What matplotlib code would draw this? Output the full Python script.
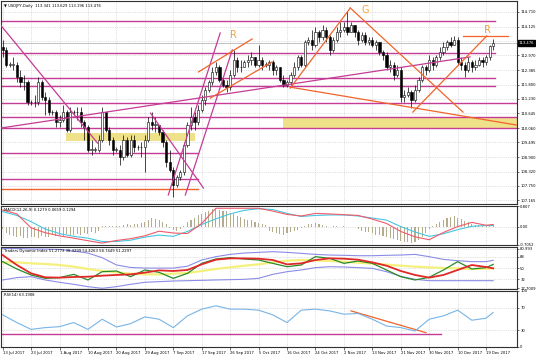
import matplotlib
matplotlib.use('Agg')
import matplotlib.pyplot as plt
import numpy as np

plt.rcParams['font.family'] = ['DejaVu Sans']

# daily candles, 13 Jul 2017 .. 21 Dec 2017 (broker with sunday bars)
first_open = 113.30
closes = [113.2, 112.6, 112.6, 112.6, 112.1, 111.9, 111.9, 111.1, 111.1, 111.1,
          111.9, 111.3, 111.2, 110.7, 110.7, 110.3, 110.4, 110.7, 110.0, 110.7,
          110.7, 110.7, 110.3, 110.1, 109.2, 109.2, 109.2, 109.6, 110.7, 110.0,
          109.6, 109.2, 109.2, 108.9, 109.6, 109.0, 109.6, 109.3, 109.3, 109.3,
          109.6, 110.3, 110.2, 110.2, 109.9, 109.5, 108.7, 108.4, 107.8, 108.1,
          108.3, 109.4, 110.2, 110.5, 110.3, 110.8, 111.2, 111.6, 111.9, 112.3,
          112.5, 112.0, 111.8, 111.7, 112.2, 112.8, 112.5, 112.5, 112.7, 112.8,
          112.9, 112.6, 112.8, 112.6, 112.6, 112.7, 112.4, 112.5, 112.0, 111.8,
          111.9, 112.2, 112.5, 112.9, 112.6, 113.5, 113.6, 113.4, 113.9, 113.7,
          114.0, 113.7, 113.2, 113.6, 113.9, 114.0, 114.1, 113.9, 114.2, 113.9,
          113.6, 113.8, 113.5, 113.6, 113.4, 113.5, 113.1, 113.0, 112.5, 112.6,
          112.2, 112.4, 111.3, 111.4, 111.5, 111.2, 111.6, 112.0, 112.5, 112.4,
          112.8, 112.6, 112.9, 113.1, 113.3, 113.5, 113.4, 113.6, 112.7, 112.6,
          112.4, 112.7, 112.5, 112.6, 112.8, 112.7, 112.9, 113.341, 113.476]
highs = [113.6, 113.3, 112.7, 112.9, 112.7, 112.4, 112.2, 112.0, 111.2, 111.4,
         112.1, 112.0, 111.5, 111.3, 110.8, 110.8, 110.6, 111.0, 110.8, 110.9,
         110.8, 110.9, 110.9, 110.4, 110.2, 109.6, 109.3, 109.8, 110.9, 110.7,
         110.1, 109.7, 109.3, 109.4, 109.8, 109.7, 109.8, 109.8, 109.4, 109.5,
         109.8, 110.5, 110.7, 110.5, 110.2, 110.0, 109.6, 109.2, 108.5, 108.2,
         108.4, 109.5, 110.3, 110.9, 110.7, 111.0, 111.4, 111.7, 112.0, 112.5,
         112.7, 112.6, 112.1, 112.0, 112.4, 113.2, 112.9, 112.8, 112.8, 113.0,
         113.1, 112.9, 113.4, 112.9, 112.7, 112.8, 112.8, 112.6, 112.5, 112.2,
         112.0, 112.3, 112.7, 113.0, 113.0, 113.6, 113.7, 114.0, 114.1, 114.0,
         114.2, 114.1, 113.8, 113.7, 114.1, 114.3, 114.3, 114.73, 114.3, 114.2,
         114.0, 113.9, 113.9, 113.7, 113.7, 113.6, 113.5, 113.2, 113.1, 112.8,
         112.7, 112.6, 112.5, 111.6, 111.7, 111.6, 111.8, 112.1, 112.6, 112.6,
         113.0, 112.9, 113.0, 113.3, 113.5, 113.6, 113.7, 113.75, 113.7, 112.9,
         112.7, 112.9, 112.8, 112.8, 112.9, 112.9, 113.0, 113.4, 113.629]
lows = [112.9, 112.5, 112.5, 112.4, 111.9, 111.7, 111.6, 111.0, 111.0, 110.9,
        111.0, 111.2, 110.6, 110.6, 110.6, 110.1, 110.1, 110.3, 109.9, 109.9,
        110.6, 110.4, 110.1, 109.6, 109.1, 109.0, 109.1, 109.1, 109.5, 109.9,
        109.4, 109.0, 109.1, 108.6, 108.8, 108.9, 108.9, 109.1, 109.2, 108.9,
        108.3, 109.5, 110.0, 109.9, 109.8, 109.3, 108.5, 108.3, 107.3, 107.7,
        108.0, 108.2, 109.3, 110.0, 110.0, 110.2, 110.7, 111.0, 111.5, 111.8,
        112.2, 111.9, 111.7, 111.5, 111.6, 112.1, 112.3, 112.3, 112.5, 112.5,
        112.6, 112.5, 112.5, 112.4, 112.5, 112.4, 112.2, 112.2, 111.9, 111.7,
        111.7, 111.8, 112.1, 112.4, 112.5, 112.5, 113.4, 113.2, 113.3, 113.5,
        113.6, 113.5, 113.0, 113.1, 113.5, 113.7, 113.9, 113.8, 113.9, 113.7,
        113.4, 113.5, 113.4, 113.4, 113.3, 113.2, 113.0, 112.8, 112.4, 112.3,
        112.0, 112.1, 111.1, 111.1, 111.3, 110.85, 111.1, 111.5, 111.9, 112.2,
        112.3, 112.4, 112.5, 112.8, 113.0, 113.2, 113.3, 113.4, 112.6, 112.4,
        112.1, 112.3, 112.3, 112.4, 112.55, 112.5, 112.6, 112.8, 113.196]

date_labels = ['13 Jul 2017', '23 Jul 2017', '1 Aug 2017', '10 Aug 2017', '20 Aug 2017',
               '29 Aug 2017', '7 Sep 2017', '17 Sep 2017', '26 Sep 2017', '5 Oct 2017',
               '16 Oct 2017', '24 Oct 2017', '2 Nov 2017', '13 Nov 2017', '21 Nov 2017',
               '30 Nov 2017', '10 Dec 2017', '19 Dec 2017']
price_ticks = [114.710, 114.125, 113.540, 112.970, 112.385, 111.800, 111.230, 110.645,
               110.060, 109.495, 108.900, 108.320, 107.750, 107.165]

# horizontal levels drawn on the chart: (price, last bar)
magenta_levels = [(114.35, 138.5), (113.07, 138.5), (112.07, 138.5), (111.74, 138.5),
                  (111.06, 145), (110.50, 145), (110.06, 145), (109.06, 55), (108.02, 55)]
orange_levels = [(107.62, 55)]
# trend lines: (bar0, price0, bar1, price1)
magenta_lines = [(-0.6, 114.19, 26.7, 109.46), (-0.6, 110.06, 131.5, 112.91),
                 (46.6, 107.38, 61.2, 113.87), (51.4, 107.38, 64.6, 113.19),
                 (41.6, 110.66, 56.5, 107.66)]
orange_lines = [(97.8, 114.87, 129.5, 110.70), (80.9, 111.66, 97.8, 114.87),
                (55.1, 112.31, 70.2, 113.63), (58.4, 111.26, 75.8, 112.71),
                (80.9, 111.70, 144.7, 110.18), (115.4, 110.70, 136.2, 113.75),
                (129.5, 113.75, 142.1, 113.75)]
zones = [(17.7, 54.2, 109.54, 109.86), (78.9, 145, 110.06, 110.50)]
marks = [('R', 64.9, 113.79), ('G', 102.0, 114.79), ('R', 136.5, 113.99)]

# indicators, read every 4th bar
ind_bars = list(range(0, 137, 4)) + [138]
macd_red = [0.65, 0.50, -0.04, -0.23, -0.35, -0.44, -0.54, -0.63, -0.53, -0.46, -0.35, -0.17,
            -0.24, -0.26, 0.13, 0.72, 0.72, 0.72, 0.72, 0.61, 0.48, 0.42, 0.52, 0.50,
            0.47, 0.44, 0.30, 0.13, -0.18, -0.39, -0.50, -0.22, 0.01, 0.17, 0.06, 0.09]
macd_cyan = [0.59, 0.44, 0.20, -0.09, -0.26, -0.37, -0.44, -0.57, -0.57, -0.52, -0.40, -0.32,
             -0.37, -0.18, 0.09, 0.31, 0.50, 0.64, 0.70, 0.67, 0.52, 0.40, 0.44, 0.46,
             0.46, 0.42, 0.34, 0.26, 0.01, -0.20, -0.37, -0.27, -0.11, 0.02, 0.05, 0.05]
macd_hist = [-0.10, -0.25, -0.30, -0.35, -0.40, -0.35, -0.42, -0.45, -0.40, -0.38,
             -0.42, -0.35, -0.40, -0.38, -0.33, -0.36, -0.30, -0.34, -0.28, -0.32,
             -0.30, -0.26, -0.30, -0.25, -0.28, -0.22, -0.25, -0.18, 0.02, 0.03,
             0.02, 0.04, 0.03, 0.05, 0.08, 0.10, 0.08, 0.12, 0.10, 0.14,
             0.20, 0.28, 0.33, 0.30, 0.25, 0.18, 0.10, -0.05, -0.12, -0.15,
             -0.10, 0.05, 0.18, 0.28, 0.35, 0.45, 0.50, 0.58, 0.62, 0.68,
             0.70, 0.66, 0.62, 0.60, 0.55, 0.50, 0.42, 0.38, 0.32, 0.28,
             0.25, 0.20, 0.16, 0.12, 0.06, -0.15, -0.22, -0.25, -0.28, -0.30,
             -0.25, -0.22, -0.18, -0.12, -0.05, 0.05, 0.10, 0.12, 0.15, 0.12,
             0.08, 0.03, 0.01, 0.02, 0.02, 0.01, 0.02, 0.01, 0.00, -0.02,
             -0.08, -0.15, -0.20, -0.22, -0.25, -0.30, -0.33, -0.36, -0.40, -0.44,
             -0.48, -0.52, -0.55, -0.58, -0.60, -0.62, -0.58, -0.50, -0.40, -0.25,
             -0.10, 0.05, 0.12, 0.20, 0.28, 0.34, 0.38, 0.40, 0.36, 0.30,
             0.24, 0.18, 0.12, 0.08, 0.06, 0.05, 0.04, 0.05, 0.06]
tdi_upper = [80.9, 80.99, 80.2, 80.0, 79.5, 77.0, 73.8, 66.5, 55.0, 51.0, 50.0, 50.0,
             50.0, 53.0, 62.8, 68.1, 71.7, 73.9, 74.9, 76.0, 74.9, 73.3, 71.7, 70.7,
             70.2, 69.6, 69.6, 70.2, 70.7, 71.7, 68.1, 63.8, 61.7, 60.2, 60.2, 62.3]
tdi_lower = [31.2, 34.9, 36.4, 31.2, 27.5, 24.3, 20.6, 18.0, 20.6, 24.3, 27.5, 28.5,
             29.6, 30.1, 30.6, 31.2, 31.7, 32.2, 33.8, 40.1, 44.3, 47.0, 50.7, 52.2,
             51.7, 50.7, 49.6, 44.3, 37.0, 32.2, 30.1, 30.1, 30.1, 30.1, 30.1, 30.1]
tdi_mid = [59.1, 59.1, 57.5, 56.5, 54.9, 52.2, 48.6, 45.4, 43.3, 41.2, 40.1, 40.1,
           41.2, 42.2, 45.4, 48.6, 51.2, 53.8, 55.9, 59.1, 61.7, 62.8, 62.3, 61.2,
           60.2, 58.6, 57.0, 55.4, 53.8, 52.2, 51.2, 50.1, 49.6, 48.6, 49.1, 49.6]
tdi_signal = [70.7, 54.9, 41.7, 35.4, 34.9, 35.9, 36.4, 38.0, 39.1, 40.1, 42.8, 46.4,
              45.4, 47.0, 55.9, 63.3, 65.4, 65.4, 64.9, 62.8, 55.9, 57.5, 62.8, 65.4,
              64.9, 63.3, 59.1, 53.8, 45.4, 39.1, 34.9, 39.1, 47.0, 54.9, 51.7, 49.6]
tdi_price = [60.2, 48.6, 39.1, 33.8, 34.9, 40.1, 31.2, 44.3, 45.4, 36.4, 47.0, 43.3,
             33.8, 41.7, 57.5, 64.4, 66.5, 64.4, 62.8, 57.5, 52.2, 54.9, 68.1, 65.4,
             57.5, 61.2, 57.5, 47.0, 36.4, 31.2, 35.4, 47.0, 60.2, 48.6, 50.7, 55.9]
rsi = [57.4, 43.6, 31.5, 34.6, 36.3, 43.6, 31.5, 49.6, 35.7, 41.7, 53.8, 49.6,
       34.6, 55.6, 67.6, 73.6, 67.6, 67.6, 65.8, 57.4, 43.6, 65.8, 67.6, 64.5,
       58.6, 59.8, 49.6, 37.5, 34.6, 28.5, 49.6, 55.6, 65.8, 47.8, 51.4, 61.6]

MAG = '#c43c96'
ORA = '#f0642a'
FS = 2.7
W, H = 536, 357
fig = plt.figure(figsize=(W / 100, H / 100), dpi=100)


def rect(top, bottom):
    return [0.5 / W, 1 - bottom / H, 516.5 / W, (bottom - top) / H]


ax = fig.add_axes(rect(1, 204))
ax_macd = fig.add_axes(rect(206, 245))
ax_tdi = fig.add_axes(rect(247, 289))
ax_rsi = fig.add_axes(rect(291, 347))
date_bars = [8 * k for k in range(len(date_labels))]

for a in (ax, ax_macd, ax_tdi, ax_rsi):
    a.set_xlim(-0.6, 144.7)
    a.yaxis.tick_right()
    a.set_xticks(date_bars)
    a.grid(True, color='#c8c8c8', lw=0.4, ls=(0, (2, 2)))
    a.set_axisbelow(True)
    a.tick_params(axis='y', labelsize=FS, length=1.5, width=0.4, pad=0.8)
    a.tick_params(axis='x', labelbottom=False, length=0)
    for s in a.spines.values():
        s.set_color('#303030')
        s.set_linewidth(0.8)

# main chart
idx = np.arange(len(closes))
c = np.array(closes)
o = np.array([first_open] + closes[:-1])
body = np.maximum(np.abs(c - o), 0.015)
cols = ['white' if cc >= oo else 'black' for cc, oo in zip(c, o)]
for z in zones:
    ax.fill_between([z[0], z[1]], z[2], z[3], color='#efe08a', lw=0, zorder=1)
for p, end in magenta_levels:
    ax.plot([-0.6, end], [p, p], color=MAG, lw=1.0, zorder=2)
for p, end in orange_levels:
    ax.plot([-0.6, end], [p, p], color=ORA, lw=1.0, zorder=2)
ax.axhline(closes[-1], color='#a8a8a8', lw=0.5, zorder=1)
ax.vlines(idx, lows, highs, color='black', lw=0.5, zorder=3)
ax.bar(idx, body, bottom=np.minimum(o, c), width=0.62, color=cols,
       edgecolor='black', linewidth=0.4, zorder=4)
for x0, y0, x1, y1 in magenta_lines:
    ax.plot([x0, x1], [y0, y1], color=MAG, lw=0.9, zorder=5)
for x0, y0, x1, y1 in orange_lines:
    ax.plot([x0, x1], [y0, y1], color=ORA, lw=0.9, zorder=5)
for t, x, y in marks:
    ax.text(x, y, t, color='#f2a23c', fontsize=7, ha='center', va='center', zorder=6)
ax.set_ylim(107.02, 115.15)
ax.set_yticks(price_ticks)
ax.set_yticklabels(['%.3f' % v if v != 113.540 else '' for v in price_ticks])
ax.text(1.003, closes[-1], '%.3f' % closes[-1], transform=ax.get_yaxis_transform(),
        color='white', fontsize=FS, va='center', ha='left',
        bbox=dict(boxstyle='square,pad=0.2', fc='black', ec='black'))
ax.text(0.006, 0.985, '\u25bc USDJPY,Daily  113.341 113.629 113.196 113.476',
        transform=ax.transAxes, fontsize=FS, va='top', ha='left')

# MACD
ax_macd.bar(idx, macd_hist, width=0.3, color='#b3ad8d', zorder=2)
ax_macd.plot(ind_bars, macd_cyan, color='#46c6e0', lw=0.8, zorder=3)
ax_macd.plot(ind_bars, macd_red, color='#f05a6a', lw=0.8, zorder=3)
ax_macd.set_ylim(-0.7052, 0.807)
ax_macd.set_yticks([0.807, 0.0, -0.7052])
ax_macd.set_yticklabels(['0.807', '0.00', '-0.7052'])
ax_macd.text(0.006, 0.95, 'MACD(12,26,9) 0.1279 0.0659 0.1294', transform=ax_macd.transAxes,
             fontsize=FS, va='top', ha='left')

# Traders Dynamic Index
ax_tdi.plot(ind_bars, tdi_upper, color='#8c8ce6', lw=0.8)
ax_tdi.plot(ind_bars, tdi_lower, color='#8c8ce6', lw=0.8)
ax_tdi.plot(ind_bars, tdi_mid, color='#f4f07c', lw=1.6)
ax_tdi.plot(ind_bars, tdi_price, color='#2a8a2a', lw=0.9)
ax_tdi.plot(ind_bars, tdi_signal, color='#e02828', lw=1.3)
ax_tdi.set_ylim(16.9, 83.4)
ax_tdi.set_yticks([80.993, 68, 50, 32, 17.7009])
ax_tdi.set_yticklabels(['80.993', '68', '50', '32', '17.7009'])
ax_tdi.text(0.006, 0.95, 'Traders Dynamic Index 51.2773 38.4299 54.4263 58.7449 51.2297',
            transform=ax_tdi.transAxes, fontsize=FS, va='top', ha='left')

# RSI
ax_rsi.plot([-0.6, 123.3], [22.5, 22.5], color=MAG, lw=1.0)
ax_rsi.plot([98.0, 119.1], [64.5, 25.6], color=ORA, lw=0.9)
ax_rsi.plot(ind_bars, rsi, color='#78b4e6', lw=0.8)
ax_rsi.set_ylim(0, 100)
ax_rsi.set_yticks([100, 70, 30, 0])
ax_rsi.set_yticklabels(['100', '70', '30', '0'])
ax_rsi.text(0.006, 0.96, 'RSI(14) 63.1908', transform=ax_rsi.transAxes,
            fontsize=FS, va='top', ha='left')
ax_rsi.tick_params(axis='x', labelbottom=True, length=2, width=0.4, pad=1, labelsize=FS)
ax_rsi.set_xticklabels(date_labels, ha='left')

fig.savefig('out.png', dpi=100)
